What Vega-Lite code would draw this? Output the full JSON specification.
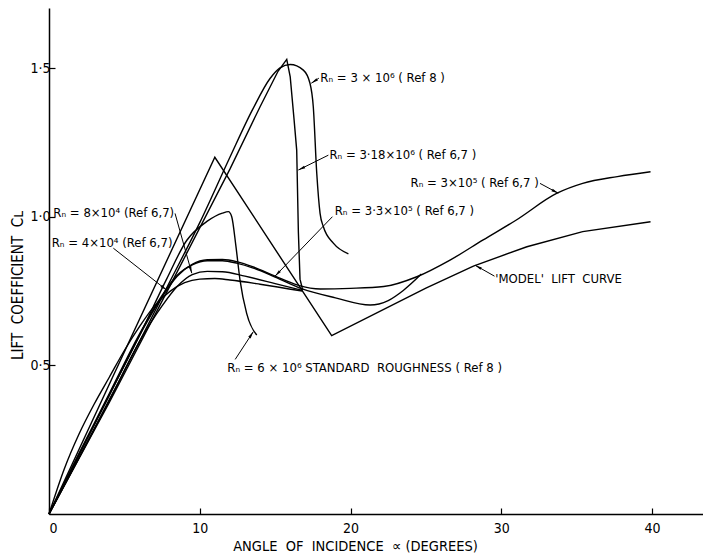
{
  "$schema": "https://vega.github.io/schema/vega-lite/v6.json",
  "width": 654,
  "height": 506,
  "autosize": "none",
  "padding": {"left": 49, "top": 8, "right": 0, "bottom": 40},
  "background": "white",
  "config": {
    "view": {"stroke": null},
    "font": "DejaVu Sans Condensed, Liberation Sans Narrow, DejaVu Sans"
  },
  "datasets": {
    "curves": [
      {"curve": "model", "alpha": 0, "cl": 0},
      {"curve": "model", "alpha": 11, "cl": 1.2},
      {"curve": "model", "alpha": 18.75, "cl": 0.6},
      {"curve": "model", "alpha": 25, "cl": 0.76},
      {"curve": "model", "alpha": 28.15, "cl": 0.834},
      {"curve": "model", "alpha": 31.7, "cl": 0.899},
      {"curve": "model", "alpha": 35.4, "cl": 0.95},
      {"curve": "model", "alpha": 39.9, "cl": 0.983},

      {"curve": "3.18e6", "alpha": 0, "cl": 0},
      {"curve": "3.18e6", "alpha": 4, "cl": 0.375},
      {"curve": "3.18e6", "alpha": 8, "cl": 0.765},
      {"curve": "3.18e6", "alpha": 12, "cl": 1.16},
      {"curve": "3.18e6", "alpha": 14, "cl": 1.37},
      {"curve": "3.18e6", "alpha": 15.2, "cl": 1.49},
      {"curve": "3.18e6", "alpha": 15.77, "cl": 1.529},
      {"curve": "3.18e6", "alpha": 16.0, "cl": 1.47},
      {"curve": "3.18e6", "alpha": 16.25, "cl": 1.33},
      {"curve": "3.18e6", "alpha": 16.43, "cl": 1.224},
      {"curve": "3.18e6", "alpha": 16.54, "cl": 0.95},
      {"curve": "3.18e6", "alpha": 16.65, "cl": 0.79},
      {"curve": "3.18e6", "alpha": 16.83, "cl": 0.753},

      {"curve": "3e6", "alpha": 0, "cl": 0},
      {"curve": "3e6", "alpha": 2, "cl": 0.19},
      {"curve": "3e6", "alpha": 4, "cl": 0.385},
      {"curve": "3e6", "alpha": 6, "cl": 0.58},
      {"curve": "3e6", "alpha": 8, "cl": 0.78},
      {"curve": "3e6", "alpha": 10, "cl": 0.98},
      {"curve": "3e6", "alpha": 12, "cl": 1.2},
      {"curve": "3e6", "alpha": 13.5, "cl": 1.36},
      {"curve": "3e6", "alpha": 14.66, "cl": 1.465},
      {"curve": "3e6", "alpha": 15.3, "cl": 1.5},
      {"curve": "3e6", "alpha": 16.0, "cl": 1.512},
      {"curve": "3e6", "alpha": 16.87, "cl": 1.493},
      {"curve": "3e6", "alpha": 17.31, "cl": 1.449},
      {"curve": "3e6", "alpha": 17.53, "cl": 1.37},
      {"curve": "3e6", "alpha": 17.76, "cl": 1.146},
      {"curve": "3e6", "alpha": 17.98, "cl": 1.011},
      {"curve": "3e6", "alpha": 18.2, "cl": 0.966},
      {"curve": "3e6", "alpha": 18.86, "cl": 0.911},
      {"curve": "3e6", "alpha": 19.86, "cl": 0.875},

      {"curve": "6e6", "alpha": 0, "cl": 0},
      {"curve": "6e6", "alpha": 2, "cl": 0.2},
      {"curve": "6e6", "alpha": 4, "cl": 0.4},
      {"curve": "6e6", "alpha": 6, "cl": 0.6},
      {"curve": "6e6", "alpha": 7.8, "cl": 0.79},
      {"curve": "6e6", "alpha": 9.13, "cl": 0.92},
      {"curve": "6e6", "alpha": 10.5, "cl": 0.985},
      {"curve": "6e6", "alpha": 11.5, "cl": 1.012},
      {"curve": "6e6", "alpha": 11.9, "cl": 1.017},
      {"curve": "6e6", "alpha": 12.12, "cl": 1.0},
      {"curve": "6e6", "alpha": 12.4, "cl": 0.9},
      {"curve": "6e6", "alpha": 12.67, "cl": 0.787},
      {"curve": "6e6", "alpha": 13.11, "cl": 0.675},
      {"curve": "6e6", "alpha": 13.78, "cl": 0.602},

      {"curve": "3e5", "alpha": 0, "cl": 0},
      {"curve": "3e5", "alpha": 2, "cl": 0.2},
      {"curve": "3e5", "alpha": 4, "cl": 0.4},
      {"curve": "3e5", "alpha": 6, "cl": 0.6},
      {"curve": "3e5", "alpha": 7.5, "cl": 0.73},
      {"curve": "3e5", "alpha": 8.5, "cl": 0.8},
      {"curve": "3e5", "alpha": 9.5, "cl": 0.84},
      {"curve": "3e5", "alpha": 10.5, "cl": 0.855},
      {"curve": "3e5", "alpha": 11.5, "cl": 0.856},
      {"curve": "3e5", "alpha": 12.5, "cl": 0.848},
      {"curve": "3e5", "alpha": 13.5, "cl": 0.832},
      {"curve": "3e5", "alpha": 15, "cl": 0.8},
      {"curve": "3e5", "alpha": 16.5, "cl": 0.77},
      {"curve": "3e5", "alpha": 18, "cl": 0.757},
      {"curve": "3e5", "alpha": 20, "cl": 0.759},
      {"curve": "3e5", "alpha": 22.2, "cl": 0.765},
      {"curve": "3e5", "alpha": 24.4, "cl": 0.798},
      {"curve": "3e5", "alpha": 26.6, "cl": 0.854},
      {"curve": "3e5", "alpha": 28.8, "cl": 0.922},
      {"curve": "3e5", "alpha": 31, "cl": 0.989},
      {"curve": "3e5", "alpha": 33.7, "cl": 1.079},
      {"curve": "3e5", "alpha": 35.4, "cl": 1.112},
      {"curve": "3e5", "alpha": 37.7, "cl": 1.135},
      {"curve": "3e5", "alpha": 39.9, "cl": 1.151},

      {"curve": "3.3e5", "alpha": 0, "cl": 0},
      {"curve": "3.3e5", "alpha": 2, "cl": 0.205},
      {"curve": "3.3e5", "alpha": 4, "cl": 0.405},
      {"curve": "3.3e5", "alpha": 6, "cl": 0.605},
      {"curve": "3.3e5", "alpha": 7.5, "cl": 0.735},
      {"curve": "3.3e5", "alpha": 8.5, "cl": 0.803},
      {"curve": "3.3e5", "alpha": 9.5, "cl": 0.838},
      {"curve": "3.3e5", "alpha": 10.5, "cl": 0.852},
      {"curve": "3.3e5", "alpha": 11.5, "cl": 0.852},
      {"curve": "3.3e5", "alpha": 12.5, "cl": 0.843},
      {"curve": "3.3e5", "alpha": 13.5, "cl": 0.828},
      {"curve": "3.3e5", "alpha": 15, "cl": 0.797},
      {"curve": "3.3e5", "alpha": 16.8, "cl": 0.757},
      {"curve": "3.3e5", "alpha": 19, "cl": 0.727},
      {"curve": "3.3e5", "alpha": 21.3, "cl": 0.703},
      {"curve": "3.3e5", "alpha": 22.5, "cl": 0.718},
      {"curve": "3.3e5", "alpha": 23.5, "cl": 0.752},
      {"curve": "3.3e5", "alpha": 24.7, "cl": 0.807},

      {"curve": "8e4", "alpha": 0, "cl": 0},
      {"curve": "8e4", "alpha": 2, "cl": 0.19},
      {"curve": "8e4", "alpha": 4, "cl": 0.38},
      {"curve": "8e4", "alpha": 6, "cl": 0.58},
      {"curve": "8e4", "alpha": 7.5, "cl": 0.7},
      {"curve": "8e4", "alpha": 8.5, "cl": 0.765},
      {"curve": "8e4", "alpha": 9.5, "cl": 0.805},
      {"curve": "8e4", "alpha": 10.5, "cl": 0.816},
      {"curve": "8e4", "alpha": 11.5, "cl": 0.815},
      {"curve": "8e4", "alpha": 13, "cl": 0.8},
      {"curve": "8e4", "alpha": 15, "cl": 0.775},
      {"curve": "8e4", "alpha": 16.8, "cl": 0.752},

      {"curve": "4e4", "alpha": 0, "cl": 0},
      {"curve": "4e4", "alpha": 1, "cl": 0.15},
      {"curve": "4e4", "alpha": 2, "cl": 0.27},
      {"curve": "4e4", "alpha": 3, "cl": 0.37},
      {"curve": "4e4", "alpha": 4, "cl": 0.46},
      {"curve": "4e4", "alpha": 5, "cl": 0.55},
      {"curve": "4e4", "alpha": 6, "cl": 0.63},
      {"curve": "4e4", "alpha": 7, "cl": 0.7},
      {"curve": "4e4", "alpha": 8, "cl": 0.748},
      {"curve": "4e4", "alpha": 9, "cl": 0.778},
      {"curve": "4e4", "alpha": 10, "cl": 0.79},
      {"curve": "4e4", "alpha": 11, "cl": 0.792},
      {"curve": "4e4", "alpha": 12, "cl": 0.787},
      {"curve": "4e4", "alpha": 14, "cl": 0.773},
      {"curve": "4e4", "alpha": 16.8, "cl": 0.75}
    ],
    "notes": [
      {"label": "Rₙ = 3 × 10⁶ ( Ref 8 )", "tx": 18.0, "ty": 1.466, "tailx": 17.9, "taily": 1.466, "tipx": 17.4, "tipy": 1.449},
      {"label": "Rₙ = 3·18×10⁶ ( Ref 6,7 )", "tx": 18.6, "ty": 1.207, "tailx": 18.53, "taily": 1.207, "tipx": 16.54, "tipy": 1.157},
      {"label": "Rₙ = 3×10⁵ ( Ref 6,7 )", "tx": 23.98, "ty": 1.112, "tailx": 32.57, "taily": 1.112, "tipx": 33.78, "tipy": 1.079},
      {"label": "Rₙ = 3·3×10⁵ ( Ref 6,7 )", "tx": 18.95, "ty": 1.019, "tailx": 18.8, "taily": 1.0, "tipx": 14.99, "tipy": 0.8},
      {"label": "'MODEL'\u00a0\u00a0LIFT\u00a0\u00a0CURVE", "tx": 29.6, "ty": 0.789, "tailx": 29.55, "taily": 0.8, "tipx": 28.26, "tipy": 0.837},
      {"label": "Rₙ = 6 × 10⁶ STANDARD\u00a0\u00a0ROUGHNESS ( Ref 8 )", "tx": 11.83, "ty": 0.49, "tailx": 12.35, "taily": 0.52, "tipx": 13.55, "tipy": 0.613},
      {"label": "Rₙ = 8×10⁴ (Ref 6,7)", "tx": 0.29, "ty": 1.011, "tailx": 8.36, "taily": 1.011, "tipx": 9.47, "tipy": 0.81},
      {"label": "Rₙ = 4×10⁴ (Ref 6,7)", "tx": 0.18, "ty": 0.91, "tailx": 4.27, "taily": 0.894, "tipx": 7.81, "tipy": 0.753}
    ]
  },
  "layer": [
    {
      "data": {"name": "curves"},
      "transform": [{"filter": "datum.curve !== 'model' && datum.curve !== '3.18e6'"}],
      "mark": {"type": "line", "color": "black", "strokeWidth": 1.4, "interpolate": "monotone"},
      "encoding": {
        "x": {
          "field": "alpha", "type": "quantitative",
          "scale": {"domain": [0, 43.38], "nice": false, "zero": false},
          "axis": {
            "values": [0, 10, 20, 30, 40],
            "title": "ANGLE\u00a0\u00a0OF\u00a0\u00a0INCIDENCE\u00a0\u00a0∝ (DEGREES)",
            "grid": false,
            "domainColor": "black", "domainWidth": 1.5,
            "tickColor": "black", "tickSize": -6, "tickWidth": 1.2,
            "labelColor": "black", "labelFontSize": 14, "labelPadding": 13,
            "titleColor": "black", "titleFontSize": 14.5, "titleFontWeight": "normal",
            "titleX": 306, "titlePadding": 4
          }
        },
        "y": {
          "field": "cl", "type": "quantitative",
          "scale": {"domain": [0, 1.702], "nice": false},
          "axis": {
            "values": [0.5, 1, 1.5],
            "labelExpr": "replace(format(datum.value, '.1f'), '.', '·')",
            "title": "LIFT\u00a0\u00a0COEFFICIENT\u00a0\u00a0Cʟ",
            "grid": false,
            "domainColor": "black", "domainWidth": 1.5,
            "tickColor": "black", "tickSize": -6, "tickWidth": 1.2,
            "labelColor": "black", "labelFontSize": 14, "labelPadding": 5,
            "titleColor": "black", "titleFontSize": 15, "titleFontWeight": "normal",
            "titleY": 277, "titlePadding": 4
          }
        },
        "detail": {"field": "curve"},
        "strokeWidth": {
          "condition": {"test": "datum.curve === '3e5'", "value": 2.2},
          "value": 1.4
        }
      }
    },
    {
      "data": {"name": "curves"},
      "transform": [{"filter": "datum.curve === 'model' || datum.curve === '3.18e6'"}],
      "mark": {"type": "line", "color": "black", "strokeWidth": 1.4, "interpolate": "linear"},
      "encoding": {
        "x": {"field": "alpha", "type": "quantitative"},
        "y": {"field": "cl", "type": "quantitative"},
        "detail": {"field": "curve"}
      }
    },
    {
      "data": {"name": "notes"},
      "mark": {"type": "rule", "color": "black", "strokeWidth": 1},
      "encoding": {
        "x": {"field": "tailx", "type": "quantitative"},
        "y": {"field": "taily", "type": "quantitative"},
        "x2": {"field": "tipx"},
        "y2": {"field": "tipy"}
      }
    },
    {
      "data": {"name": "notes"},
      "mark": {
        "type": "point", "filled": true, "color": "black", "opacity": 1,
        "shape": "M0,0L-0.4,2L0.4,2Z", "size": 49,
        "angle": {"expr": "atan2(scale('x', datum.tipx) - scale('x', datum.tailx), scale('y', datum.taily) - scale('y', datum.tipy)) * 180 / PI"}
      },
      "encoding": {
        "x": {"field": "tipx", "type": "quantitative"},
        "y": {"field": "tipy", "type": "quantitative"}
      }
    },
    {
      "data": {"name": "notes"},
      "mark": {"type": "text", "align": "left", "baseline": "middle", "fontSize": 13, "color": "black"},
      "encoding": {
        "x": {"field": "tx", "type": "quantitative"},
        "y": {"field": "ty", "type": "quantitative"},
        "text": {"field": "label"}
      }
    }
  ]
}
